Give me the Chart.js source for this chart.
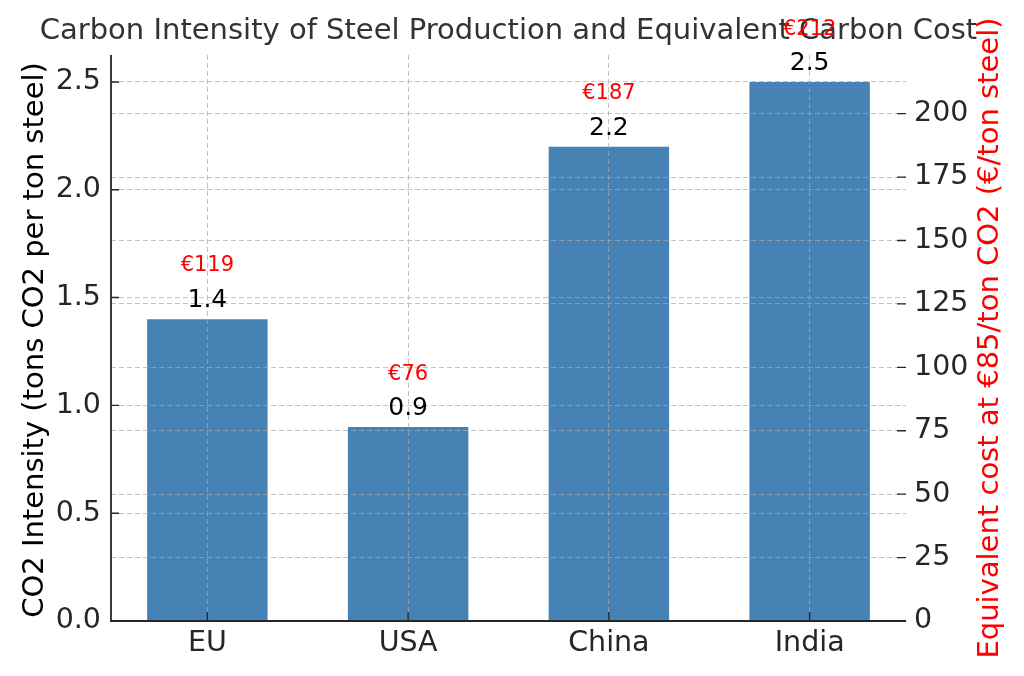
<!DOCTYPE html>
<html>
<head>
<meta charset="utf-8">
<script src="https://cdn.jsdelivr.net/npm/chart.js@4.4.0/dist/chart.umd.min.js"></script>
<style>
  html, body { margin: 0; padding: 0; background: #ffffff; }
  #wrap { width: 1024px; height: 676px; }
</style>
</head>
<body>
<div id="wrap"><canvas id="steelChart" width="1024" height="676"></canvas></div>
<script>
// data
const countries = ["EU", "USA", "China", "India"];
const intensity = [1.4, 0.9, 2.2, 2.5];
const costs = [119, 76, 187, 212];
const leftTicks = [0, 0.5, 1.0, 1.5, 2.0, 2.5];
const rightTicks = [0, 25, 50, 75, 100, 125, 150, 175, 200];

const chartTitle = "Carbon Intensity of Steel Production and Equivalent Carbon Cost";
const leftTitle = "CO2 Intensity (tons CO2 per ton steel)";
const rightTitle = "Equivalent cost at €85/ton CO2 (€/ton steel)";

const FONT = "'DejaVu Sans', sans-serif";
const TEXT = "#262626";
const TICK_SIZE = 28.5;
const gridOpts = { color: "rgba(170,170,170,0.7)", lineWidth: 1, drawTicks: false, offset: false, z: 1 };
const dash = [5, 3];

// title, axis titles, spines, inward ticks and bar labels
const overlayPlugin = {
  id: "overlay",
  afterDraw(chart) {
    const ctx = chart.ctx;
    const area = chart.chartArea;
    const x = chart.scales.x;
    const y = chart.scales.y;
    const y2 = chart.scales.y2;
    ctx.save();

    // spines (left + bottom only)
    ctx.strokeStyle = TEXT;
    ctx.lineWidth = 1.8;
    ctx.beginPath();
    ctx.moveTo(area.left, area.top);
    ctx.lineTo(area.left, area.bottom);
    ctx.lineTo(area.right, area.bottom);
    ctx.stroke();

    // tick marks pointing inwards
    ctx.lineWidth = 1.4;
    ctx.beginPath();
    leftTicks.forEach((v) => {
      const py = y.getPixelForValue(v);
      ctx.moveTo(area.left, py);
      ctx.lineTo(area.left + 8, py);
    });
    rightTicks.forEach((v) => {
      const py = y2.getPixelForValue(v);
      ctx.moveTo(area.right, py);
      ctx.lineTo(area.right - 9, py);
    });
    countries.forEach((c, i) => {
      const px = x.getPixelForValue(i);
      ctx.moveTo(px, area.bottom);
      ctx.lineTo(px, area.bottom - 9);
    });
    ctx.stroke();

    // chart title
    ctx.fillStyle = "#333333";
    ctx.font = "29px " + FONT;
    ctx.textAlign = "center";
    ctx.textBaseline = "alphabetic";
    ctx.fillText(chartTitle, (area.left + area.right) / 2, 39);

    // axis titles
    ctx.textBaseline = "middle";
    ctx.save();
    ctx.translate(35, 340);
    ctx.rotate(-Math.PI / 2);
    ctx.fillStyle = "#000000";
    ctx.fillText(leftTitle, 0, 0);
    ctx.restore();

    ctx.save();
    ctx.translate(990, 338);
    ctx.rotate(-Math.PI / 2);
    ctx.fillStyle = "#ff0000";
    ctx.fillText(rightTitle, 0, 0);
    ctx.restore();

    // value labels above the bars
    ctx.textBaseline = "alphabetic";
    countries.forEach((c, i) => {
      const px = x.getPixelForValue(i);
      const top = y.getPixelForValue(intensity[i]);
      ctx.font = "25px " + FONT;
      ctx.fillStyle = "#000000";
      ctx.fillText(intensity[i].toFixed(1), px, top - 12);

      const costTop = y2.getPixelForValue(costs[i]);
      ctx.font = "21px " + FONT;
      ctx.fillStyle = "#ff0000";
      ctx.fillText("€" + costs[i], px, costTop - 48);
    });

    ctx.restore();
  },
};

const canvas = document.getElementById("steelChart");
new Chart(canvas, {
  type: "bar",
  data: {
    datasets: [
      {
        label: "CO2 Intensity",
        data: intensity.map((v, i) => ({ x: i, y: v })),
        backgroundColor: "#4682B4",
        barPercentage: 0.6,
        categoryPercentage: 1.0,
        xAxisID: "x",
        yAxisID: "y",
      },
      {
        type: "line",
        label: "Carbon cost",
        data: costs.map((v, i) => ({ x: i, y: v })),
        showLine: false,
        pointRadius: 0,
        xAxisID: "x",
        yAxisID: "y2",
      },
    ],
  },
  options: {
    responsive: false,
    animation: false,
    devicePixelRatio: 1,
    layout: { padding: { top: 55, left: 0, right: 0, bottom: 0 }, autoPadding: false },
    plugins: {
      legend: { display: false },
      tooltip: { enabled: false },
      title: { display: false },
    },
    scales: {
      x: {
        type: "linear",
        position: "bottom",
        min: -0.48,
        max: 3.48,
        offset: false,
        afterBuildTicks: (s) => {
          s.ticks = countries.map((c, i) => ({ value: i }));
        },
        ticks: {
          callback: (v) => countries[v],
          font: { family: FONT, size: TICK_SIZE },
          color: TEXT,
          padding: 5,
          autoSkip: false,
          maxRotation: 0,
        },
        grid: gridOpts,
        border: { display: false, dash: dash },
        afterFit: (s) => {
          s.height = 55;
        },
      },
      y: {
        position: "left",
        min: 0,
        max: 2.625,
        afterBuildTicks: (s) => {
          s.ticks = leftTicks.map((v) => ({ value: v }));
        },
        ticks: {
          callback: (v) => v.toFixed(1),
          font: { family: FONT, size: TICK_SIZE },
          color: TEXT,
          padding: 10,
        },
        grid: gridOpts,
        border: { display: false, dash: dash },
        afterFit: (s) => {
          s.width = 111;
        },
      },
      y2: {
        position: "right",
        min: 0,
        max: 223.125,
        afterBuildTicks: (s) => {
          s.ticks = rightTicks.map((v) => ({ value: v }));
        },
        ticks: {
          callback: (v) => String(v),
          font: { family: FONT, size: TICK_SIZE },
          color: TEXT,
          padding: 8,
        },
        grid: gridOpts,
        border: { display: false, dash: dash },
        afterFit: (s) => {
          s.width = 118;
        },
      },
    },
  },
  plugins: [overlayPlugin],
});
</script>
</body>
</html>
